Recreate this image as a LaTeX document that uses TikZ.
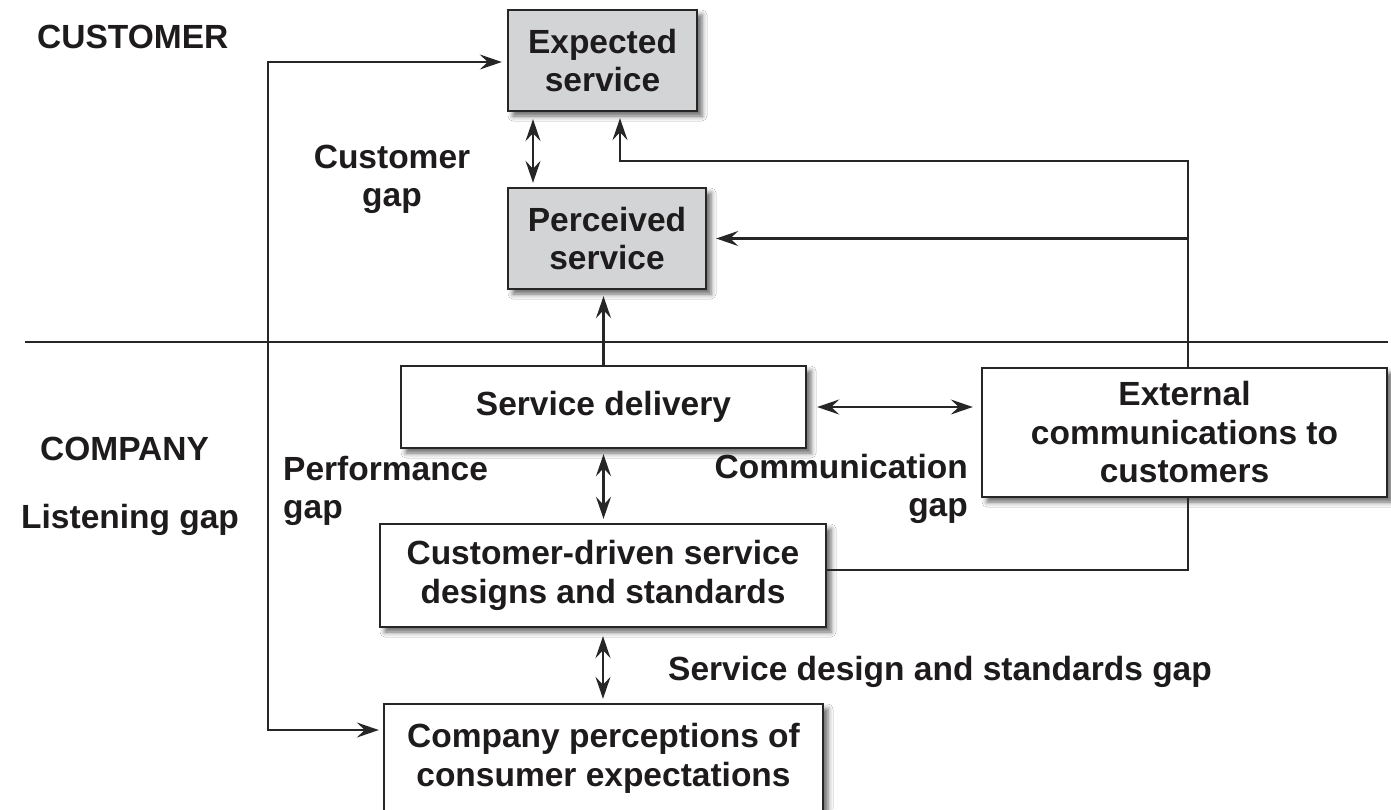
\documentclass[tikz,border=0pt]{standalone}
\usepackage{fontspec}
\setmainfont{Liberation Sans}
\usetikzlibrary{arrows.meta,shadows.blur}
\definecolor{ink}{HTML}{1E1B1C}
\definecolor{boxgray}{HTML}{D3D4D6}
\definecolor{linec}{HTML}{262626}
\begin{document}
\begin{tikzpicture}[x=1pt,y=-1pt,
  font=\fontsize{33.5}{38.5}\selectfont\bfseries, text=ink,
  box/.style={draw=linec, line width=2.4pt, fill=white, inner sep=0pt, align=center,
    blur shadow={shadow xshift=5pt, shadow yshift=-5pt, shadow blur radius=5pt, shadow opacity=60}},
  graybox/.style={box, fill=boxgray},
  conn/.style={draw=linec, line width=2.1pt},
  tipA/.tip={Stealth[length=22pt,width=15pt,inset=8pt]},
  arr/.style={conn, -tipA},
  dbl/.style={conn, tipA-tipA},
  lbl/.style={inner sep=0pt}
]
\fill[white] (0,0) rectangle (1391,809);
\useasboundingbox (0,0) rectangle (1391,809);

% boxes
\node[graybox, minimum width=189pt, minimum height=101pt] (exp) at (602.5,60.5) {Expected\\service};
\node[graybox, minimum width=198pt, minimum height=101pt] (per) at (607,238.5) {Perceived\\service};
\node[box, minimum width=405pt, minimum height=82pt] (del) at (603.5,407) {Service delivery};
\node[box, minimum width=405pt, minimum height=129pt] (ext) at (1184.5,432.5) {External\\communications to\\customers};
\node[box, minimum width=446pt, minimum height=103pt] (des) at (603,575.5) {Customer-driven service\\designs and standards};
\node[box, minimum width=439pt, minimum height=109pt] (cp) at (603.5,758.5) {Company perceptions of\\consumer expectations};

% helper coordinates
\coordinate (vx) at (1188,161);
\coordinate (ux) at (620,161);
\coordinate (lt) at (268,62);
\coordinate (lb) at (268,730);
\coordinate (dj) at (1188,570);
\coordinate (cg) at (533,0);

% separator
\draw[conn] (25,342) -- (1388,342);

% connectors
\draw[arr, shorten >=6pt] (ext.north -| vx) -- (vx) -- (ux) -- (ux |- exp.south);
\draw[arr, shorten >=9pt] (vx |- per.east) -- (per.east);
\draw[conn] (ext.south -| vx) -- (dj) -- (dj -| des.east);
\draw[arr, shorten >=6pt] (del.north) -- (del.north |- per.south);
\draw[dbl, shorten <=7pt, shorten >=4pt] (exp.south -| cg) -- (per.north -| cg);
\draw[dbl, shorten <=5pt, shorten >=4pt] (del.south) -- (del.south |- des.north);
\draw[dbl, shorten <=8pt, shorten >=4pt] (des.south) -- (des.south |- cp.north);
\draw[dbl, shorten <=10pt, shorten >=8pt] (del.east) -- (del.east -| ext.west);
\draw[dbl, shorten <=4pt, shorten >=5pt] (cp.west |- lb) -- (lb) -- (lt) -- (lt -| exp.west);

% labels
\node[lbl, anchor=base west] (lcust) at (37,48) {CUSTOMER};
\node[lbl, anchor=base west] (lcomp) at (40,460) {COMPANY};
\node[lbl, anchor=base west] (llist) at (21,528) {Listening gap};
\node[lbl, anchor=base] (lcg) at (392,168) {\begin{tabular}[t]{@{}c@{}}Customer\\gap\end{tabular}};
\node[lbl, anchor=base west] (lpg) at (283,480) {\begin{tabular}[t]{@{}l@{}}Performance\\gap\end{tabular}};
\node[lbl, anchor=base east] (lcom) at (968,478) {\begin{tabular}[t]{@{}r@{}}Communication\\gap\end{tabular}};
\node[lbl, anchor=base west] (lsd) at (668,680) {Service design and standards gap};
\end{tikzpicture}
\end{document}
